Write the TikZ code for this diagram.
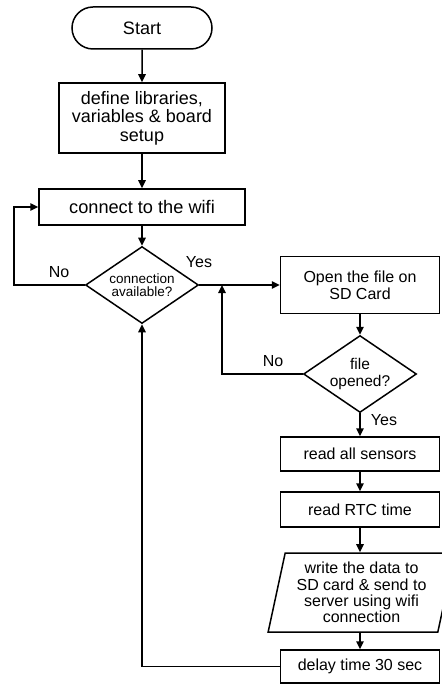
\documentclass[tikz,border=0pt]{standalone}
\usepackage{fontspec}
\setmainfont{Liberation Sans}
\usetikzlibrary{arrows.meta,shapes.geometric,shapes.misc}
\newcommand\fsz[2]{\fontsize{#1}{#2}\selectfont}
\begin{document}
\begin{tikzpicture}[x=1pt,y=-1pt,
  line width=1.5pt,
  arr/.style={-{Triangle[length=8pt,width=7.5pt]}},
  box/.style={draw, rectangle, inner sep=0pt, align=center, font=\fsz{16}{16.5}},
  term/.style={draw, rounded rectangle, inner sep=0pt, align=center, font=\fsz{18}{18}},
  dec/.style={draw, diamond, aspect=1.47, inner sep=0pt, align=center, minimum width=113pt, minimum height=77pt},
  io/.style={draw, trapezium, trapezium left angle=76.5, trapezium right angle=103.5,
             trapezium stretches=true, inner sep=0pt, align=center, font=\fsz{16}{16.2}},
  lbl/.style={inner sep=0pt, font=\fsz{16}{16}}
]
\useasboundingbox (0,0) rectangle (441,684);

\node[term, minimum width=140pt, minimum height=42pt] (start) at (142,28) {Start};
\node[box, minimum width=166pt, minimum height=70pt, font=\fsz{18}{18.4}] (def) at (142,118)
  {define libraries,\\variables \& board\\setup};
\node[box, minimum width=206pt, minimum height=36pt, font=\fsz{18.2}{18.2}] (conn) at (142,207)
  {connect to the wifi};
\node[dec, font=\fsz{13.5}{13.5}] (d1) at (142,285) {connection\\available?};
\node[box, minimum width=159pt, minimum height=57pt, font=\fsz{16}{16.7}] (open) at (360,285)
  {Open the file on\\SD Card};
\node[dec, font=\fsz{15.5}{17}] (d2) at (360,374) {file\\opened?};
\node[box, minimum width=159pt, minimum height=34pt] (sens) at (360,454) {read all sensors};
\node[box, minimum width=159pt, minimum height=35pt] (rtc) at (360,509.5) {read RTC time};
\node[io, minimum width=187pt, minimum height=79pt] (write) at (361.5,592.5)
  {write the data to\\SD card \& send to\\server using wifi\\connection};
\node[box, minimum width=159pt, minimum height=33pt] (delay) at (360,666.5) {delay time 30 sec};

\coordinate (l1) at (14,285);
\coordinate (j1) at (222,285);

\draw[arr] (start) -- (def);
\draw[arr] (def) -- (conn);
\draw[arr] (conn) -- (d1);
\draw[arr] (d1.west) -- (l1) |- (conn.west);
\draw[arr] (d1.east) -- (open.west);
\draw[arr] (open) -- (d2);
\draw[arr] (d2.west) -| (j1);
\draw[arr] (d2.south) -- (sens.north);
\draw[arr] (sens) -- (rtc);
\draw[arr] (rtc.south) -- (rtc.south |- write.north);
\draw[arr] (write.south -| delay.north) -- (delay.north);
\draw[arr] (delay.west) -| (d1.south);

\node[lbl] (no1) at (59,272) {No};
\node[lbl] (yes1) at (199,262) {Yes};
\node[lbl] (no2) at (273,361) {No};
\node[lbl] (yes2) at (384,420) {Yes};
\end{tikzpicture}
\end{document}
